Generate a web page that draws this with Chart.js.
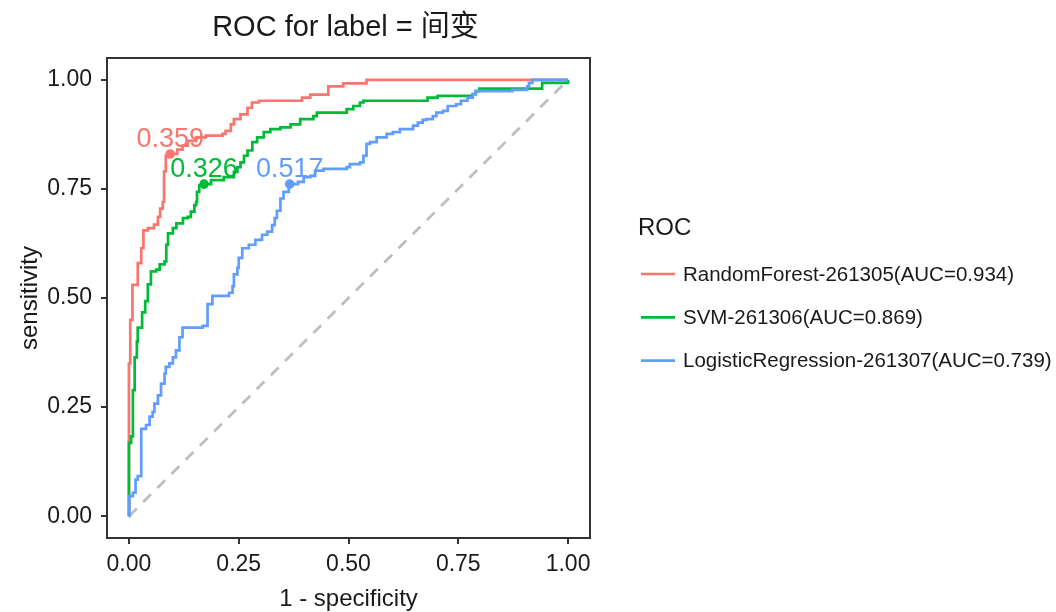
<!DOCTYPE html>
<html>
<head>
<meta charset="utf-8">
<script src="https://cdn.jsdelivr.net/npm/chart.js@4.4.1/dist/chart.umd.min.js"></script>
<style>
  html, body { margin: 0; padding: 0; background: #fff; }
  #wrap { width: 1056px; height: 612px; }
</style>
</head>
<body>
<div id="wrap"><canvas id="rocChart" width="1056" height="612"></canvas></div>
<script>
// ROC curves: 1 - specificity (x) and sensitivity (y)
const rfFpr = [0, 0, 0.003, 0.008, 0.02, 0.028, 0.033, 0.043, 0.057, 0.066, 0.071, 0.077, 0.08, 0.084, 0.094, 0.11, 0.122, 0.134, 0.153, 0.175, 0.213, 0.22, 0.232, 0.239, 0.254, 0.27, 0.28, 0.296, 0.394, 0.413, 0.454, 0.488, 0.541, 1]
const rfTpr = [0, 0.35, 0.45, 0.53, 0.58, 0.614, 0.655, 0.66, 0.668, 0.686, 0.705, 0.72, 0.79, 0.826, 0.83, 0.84, 0.849, 0.86, 0.868, 0.872, 0.876, 0.883, 0.898, 0.91, 0.921, 0.936, 0.948, 0.952, 0.959, 0.966, 0.985, 0.992, 1, 1]

const svmFpr = [0, 0, 0.005, 0.009, 0.013, 0.018, 0.02, 0.03, 0.037, 0.043, 0.05, 0.062, 0.07, 0.081, 0.085, 0.089, 0.1, 0.108, 0.123, 0.134, 0.141, 0.149, 0.153, 0.155, 0.16, 0.171, 0.187, 0.216, 0.239, 0.247, 0.254, 0.262, 0.27, 0.281, 0.292, 0.307, 0.322, 0.345, 0.368, 0.39, 0.42, 0.428, 0.496, 0.511, 0.526, 0.534, 0.68, 0.703, 0.783, 0.79, 0.798, 0.941, 1]
const svmTpr = [0, 0.168, 0.183, 0.289, 0.364, 0.40, 0.432, 0.467, 0.493, 0.531, 0.561, 0.565, 0.577, 0.584, 0.622, 0.648, 0.66, 0.671, 0.683, 0.686, 0.698, 0.713, 0.72, 0.743, 0.758, 0.761, 0.77, 0.777, 0.789, 0.80, 0.811, 0.826, 0.838, 0.857, 0.868, 0.88, 0.887, 0.891, 0.898, 0.91, 0.917, 0.925, 0.933, 0.94, 0.948, 0.952, 0.959, 0.963, 0.967, 0.974, 0.98, 0.993, 1]

const lrFpr = [0, 0.001, 0.009, 0.015, 0.02, 0.028, 0.028, 0.039, 0.047, 0.054, 0.058, 0.066, 0.073, 0.081, 0.084, 0.092, 0.1, 0.107, 0.115, 0.122, 0.168, 0.179, 0.19, 0.228, 0.236, 0.239, 0.247, 0.25, 0.258, 0.273, 0.288, 0.303, 0.315, 0.326, 0.332, 0.337, 0.345, 0.352, 0.364, 0.366, 0.385, 0.398, 0.413, 0.424, 0.443, 0.496, 0.503, 0.526, 0.534, 0.541, 0.549, 0.564, 0.587, 0.601, 0.617, 0.647, 0.658, 0.669, 0.677, 0.692, 0.70, 0.715, 0.726, 0.745, 0.756, 0.771, 0.783, 0.79, 0.873, 0.907, 0.911, 0.919, 1]
const lrTpr = [0, 0.046, 0.054, 0.084, 0.092, 0.103, 0.20, 0.209, 0.228, 0.239, 0.258, 0.277, 0.304, 0.327, 0.342, 0.35, 0.364, 0.38, 0.41, 0.432, 0.436, 0.486, 0.505, 0.512, 0.527, 0.554, 0.569, 0.592, 0.614, 0.622, 0.633, 0.645, 0.652, 0.667, 0.683, 0.70, 0.728, 0.743, 0.758, 0.761, 0.766, 0.777, 0.78, 0.792, 0.796, 0.80, 0.807, 0.811, 0.826, 0.853, 0.857, 0.868, 0.876, 0.88, 0.887, 0.895, 0.902, 0.908, 0.91, 0.917, 0.925, 0.929, 0.94, 0.944, 0.952, 0.959, 0.967, 0.974, 0.977, 0.985, 0.993, 1, 1]

// best thresholds
const thrFpr = [0.094, 0.171, 0.366]
const thrTpr = [0.830, 0.761, 0.761]
const thrLabels = ['0.359', '0.326', '0.517']

const seriesNames = ['RandomForest-261305(AUC=0.934)', 'SVM-261306(AUC=0.869)', 'LogisticRegression-261307(AUC=0.739)']
const seriesColors = ['#F8766D', '#00BA38', '#619CFF']
const tickVals = [0, 0.25, 0.5, 0.75, 1]

const FONT = '"Liberation Sans", Arial, "Noto Sans CJK SC", sans-serif'
const TEXT = '#1a1a1a'

const toPts = (xs, ys) => xs.map((x, i) => ({x: x, y: ys[i]}))

const curve = (name, xs, ys, color, order) => ({
  label: name,
  data: toPts(xs, ys),
  showLine: true,
  stepped: 'before',
  borderColor: color,
  backgroundColor: color,
  borderWidth: 2.7,
  pointRadius: 0,
  order: order
})

// title, panel border, legend and threshold labels
const extras = {
  id: 'extras',
  afterDatasetsDraw(chart) {
    const ctx = chart.ctx
    const a = chart.chartArea
    const sx = chart.scales.x, sy = chart.scales.y
    ctx.save()
    // threshold labels
    ctx.font = '27px ' + FONT
    ctx.textAlign = 'center'
    ctx.textBaseline = 'alphabetic'
    thrLabels.forEach((t, i) => {
      ctx.fillStyle = seriesColors[i]
      ctx.fillText(t, sx.getPixelForValue(thrFpr[i]), sy.getPixelForValue(thrTpr[i]) - 7)
    })
    // panel border
    ctx.strokeStyle = '#333'
    ctx.lineWidth = 2
    ctx.strokeRect(a.left, a.top, a.right - a.left, a.bottom - a.top)
    ctx.restore()
  },
  afterDraw(chart) {
    const ctx = chart.ctx
    const a = chart.chartArea
    ctx.save()
    ctx.fillStyle = TEXT
    ctx.font = '29px ' + FONT
    ctx.textAlign = 'center'
    ctx.textBaseline = 'alphabetic'
    ctx.fillText('ROC for label = 间变', (a.left + a.right) / 2 - 3, 36)

    // legend
    ctx.textAlign = 'left'
    ctx.font = '24px ' + FONT
    ctx.fillText('ROC', 638, 235)
    ctx.font = '20.5px ' + FONT
    ctx.textBaseline = 'middle'
    seriesNames.forEach((n, i) => {
      const y = 274 + i * 43.3
      ctx.strokeStyle = seriesColors[i]
      ctx.lineWidth = 2.7
      ctx.beginPath()
      ctx.moveTo(641, y)
      ctx.lineTo(675, y)
      ctx.stroke()
      ctx.fillStyle = TEXT
      ctx.fillText(n, 683, y + 1)
    })
    ctx.restore()
  }
}

window.onload = () => {
  const ctx = document.getElementById('rocChart')

  new Chart(ctx, {
    type: 'scatter',
    data: {
      datasets: [
        {
          label: 'thresholds',
          data: toPts(thrFpr, thrTpr),
          pointRadius: 4.8,
          pointBackgroundColor: seriesColors,
          pointBorderColor: seriesColors,
          pointBorderWidth: 0,
          showLine: false,
          order: 0
        },
        curve(seriesNames[2], lrFpr, lrTpr, seriesColors[2], 1),
        curve(seriesNames[1], svmFpr, svmTpr, seriesColors[1], 2),
        curve(seriesNames[0], rfFpr, rfTpr, seriesColors[0], 3),
        {
          label: 'diagonal',
          data: [{x: 0, y: 0}, {x: 1, y: 1}],
          showLine: true,
          borderColor: '#BEBEBE',
          borderWidth: 2.8,
          borderDash: [11, 9],
          pointRadius: 0,
          order: 4
        }
      ]
    },
    options: {
      responsive: false,
      animation: false,
      devicePixelRatio: 1,
      layout: { padding: { left: 0, top: 58, right: 466, bottom: 0 } },
      plugins: {
        legend: { display: false },
        tooltip: { enabled: false },
        title: { display: false }
      },
      scales: {
        x: {
          type: 'linear',
          min: -0.05,
          max: 1.05,
          afterBuildTicks: (s) => { s.ticks = tickVals.map(v => ({value: v})) },
          afterFit: (s) => { s.height = 74 },
          border: { display: false },
          grid: { drawOnChartArea: false, drawTicks: true, tickLength: 6, color: '#333', lineWidth: 2 },
          ticks: {
            padding: 7,
            color: TEXT,
            font: { family: FONT, size: 23 },
            callback: (v) => v.toFixed(2)
          },
          title: {
            display: true,
            text: '1 - specificity',
            color: TEXT,
            font: { family: FONT, size: 24 },
            padding: { top: 0, bottom: -2 }
          }
        },
        y: {
          type: 'linear',
          min: -0.05,
          max: 1.05,
          afterBuildTicks: (s) => { s.ticks = tickVals.map(v => ({value: v})) },
          afterFit: (s) => { s.width = 107 },
          border: { display: false },
          grid: { drawOnChartArea: false, drawTicks: true, tickLength: 6, color: '#333', lineWidth: 2 },
          ticks: {
            padding: 9,
            color: TEXT,
            font: { family: FONT, size: 23 },
            callback: (v) => v.toFixed(2)
          },
          title: {
            display: true,
            text: 'sensitivity',
            color: TEXT,
            font: { family: FONT, size: 24 },
            padding: { top: 16, bottom: 0 }
          }
        }
      }
    },
    plugins: [extras]
  })
}
</script>
</body>
</html>
